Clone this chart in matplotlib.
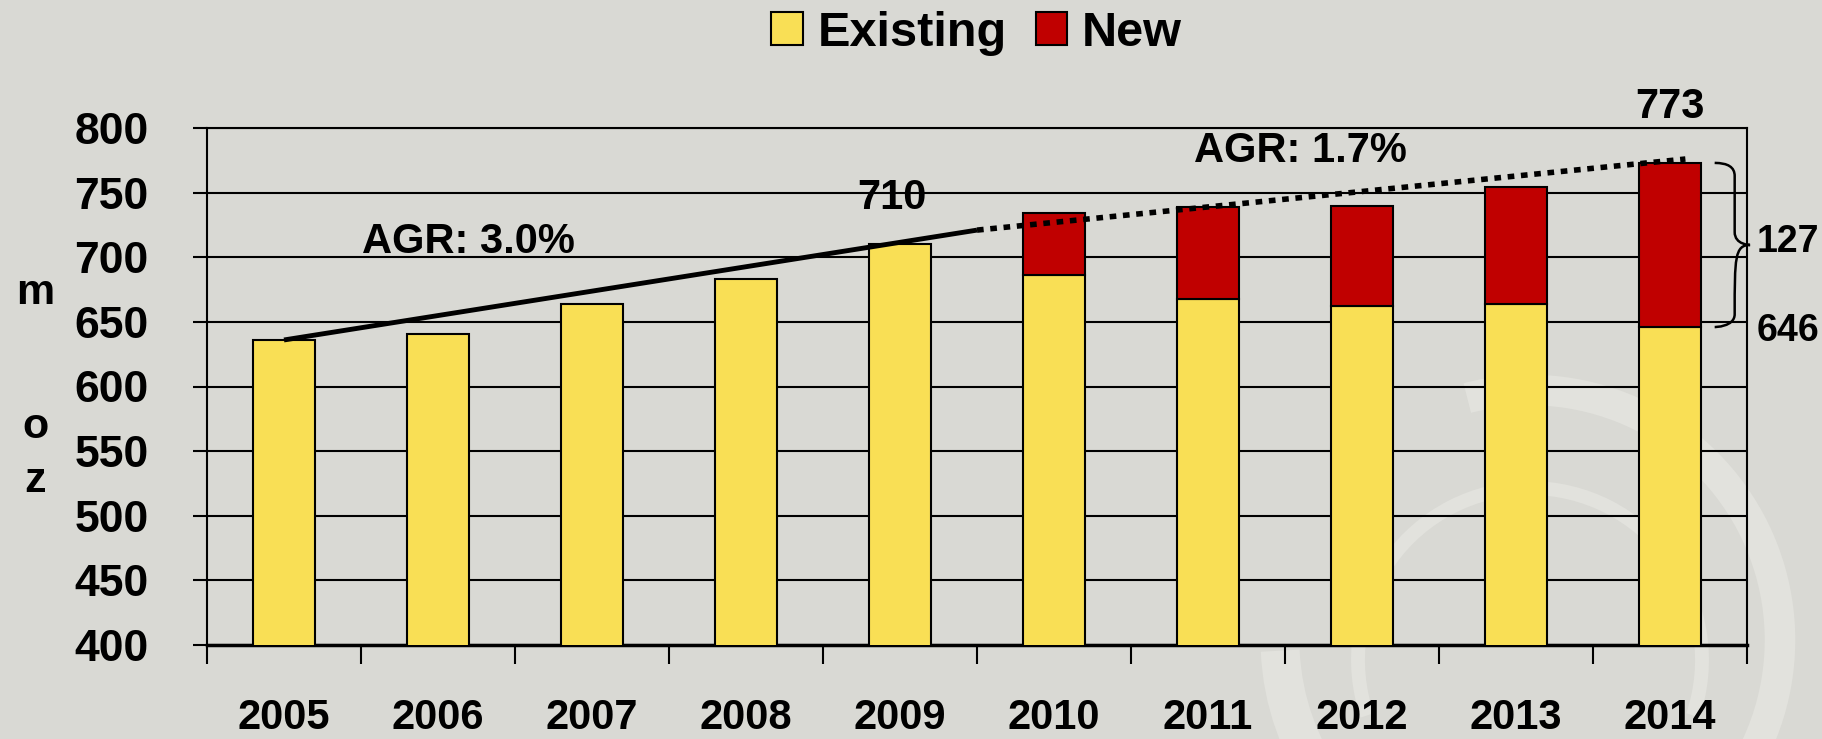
import numpy as np
import matplotlib
matplotlib.use("Agg")
import matplotlib.pyplot as plt
from matplotlib.patches import Arc, PathPatch, Rectangle
from matplotlib.path import Path

plt.rcParams['font.family'] = ['Liberation Sans', 'DejaVu Sans']
plt.rcParams['font.weight'] = 'bold'

years = ["2005", "2006", "2007", "2008", "2009", "2010", "2011", "2012", "2013", "2014"]
existing = [636, 641, 664, 683, 710, 686, 668, 662, 664, 646]
new = [0, 0, 0, 0, 0, 48, 71, 78, 90, 127]
total = [e + n for e, n in zip(existing, new)]

trend_solid = ([0, 4.5], [636, 721])
trend_dot = ([4.5, 9.1], [721, 776])

bg = "#d9d9d4"
yellow = "#f9df55"
red = "#c00000"

W, H = 1822, 739
fig = plt.figure(figsize=(W / 100, H / 100), dpi=100, facecolor=bg)

# faint swirl in the background (pixel positions from the top-left)
swirl = "#e2e2dd"
def ring(cx, cy, r, t1, t2, lw):
    fig.patches.append(Arc((cx / W, 1 - cy / H), 2 * r / W, 2 * r / H, theta1=t1, theta2=t2,
                           transform=fig.transFigure, color=swirl, lw=lw, zorder=-5))

ring(1530, 660, 172, -40, 220, 10)
ring(1530, 640, 250, -70, 96, 22)
ring(1530, 640, 250, 186, 262, 28)

ax = fig.add_axes([207 / W, 1 - 645 / H, (1747 - 207) / W, (645 - 128) / H])
ax.set_facecolor("none")
ax.set_zorder(2)

x = np.arange(len(years))
ax.bar(x, existing, width=0.4, color=yellow, edgecolor="black", lw=1.5, zorder=3)
ax.bar(x[5:], new[5:], width=0.4, bottom=existing[5:], color=red, edgecolor="black", lw=1.5, zorder=3)
ax.set_ylim(400, 800)
ax.set_xlim(-0.5, len(years) - 0.5)

ax.plot(trend_solid[0], trend_solid[1], color="black", lw=3.5, zorder=4, solid_capstyle="butt")
ax.plot(trend_dot[0], trend_dot[1], color="black", lw=4, ls=(0, (1.2, 1.2)), zorder=4)

ax.set_yticks(np.arange(400, 801, 50))
ax.yaxis.grid(True, color="black", lw=1.5, zorder=1)
ax.set_axisbelow(True)
ax.tick_params(axis="y", direction="out", length=10, width=1.5, pad=32, labelsize=32)

ax.set_xticks(np.arange(-0.5, len(years), 1.0))
ax.set_xticklabels([])
ax.set_xticks(x, minor=True)
ax.set_xticklabels(years, minor=True, fontsize=30, fontweight="bold")
ax.tick_params(axis="x", which="major", direction="out", length=14, width=1.5)
ax.tick_params(axis="x", which="minor", length=0, pad=38)

for s in ["top", "right", "left", "bottom"]:
    ax.spines[s].set_linewidth(1.5)
ax.spines["bottom"].set_linewidth(2.5)

# annotations
ax.text(3.95, 746, str(existing[4]), fontsize=30, ha="center", va="center")
ax.text(1.2, 712, "AGR: 3.0%", fontsize=30, ha="center", va="center")
ax.text(6.6, 782, "AGR: 1.7%", fontsize=30, ha="center", va="center")
ax.text(9.0, 816, str(total[-1]), fontsize=30, ha="center", va="center", clip_on=False)

# brace for the 2014 split
top, bot = total[-1], existing[-1]
mid = (top + bot) / 2
x0, x1, x2 = 9.29, 9.42, 9.52
r = 10
verts = [(x0, top), (x1, top), (x1, top - r),
         (x1, mid + r),
         (x1, mid), (x2, mid), (x2, mid),
         (x2, mid), (x1, mid), (x1, mid - r),
         (x1, bot + r),
         (x1, bot), (x0, bot), (x0, bot)]
codes = [Path.MOVETO, Path.CURVE3, Path.CURVE3,
         Path.LINETO,
         Path.CURVE4, Path.CURVE4, Path.CURVE4,
         Path.MOVETO, Path.CURVE4, Path.CURVE4,
         Path.LINETO,
         Path.CURVE4, Path.CURVE4, Path.CURVE4]
ax.add_patch(PathPatch(Path(verts, codes), fc="none", ec="black", lw=1.8, clip_on=False, zorder=5))
ax.text(9.56, mid + 2, str(new[-1]), fontsize=27, ha="left", va="center", clip_on=False)
ax.text(9.56, bot - 3, str(bot), fontsize=27, ha="left", va="center", clip_on=False)

# stacked unit label
fig.text(35 / W, 1 - 293 / H, "m", fontsize=31, ha="center", va="center")
fig.text(35 / W, 1 - 427 / H, "o", fontsize=31, ha="center", va="center")
fig.text(35 / W, 1 - 481 / H, "z", fontsize=31, ha="center", va="center")

handles = [Rectangle((0, 0), 1, 1, fc=yellow, ec="black", lw=1.5),
           Rectangle((0, 0), 1, 1, fc=red, ec="black", lw=1.5)]
fig.legend(handles, ["Existing", "New"], loc="center", bbox_to_anchor=(0.536, 1 - 33 / H),
           ncol=2, frameon=False, handlelength=0.65, handleheight=0.65,
           handletextpad=0.3, columnspacing=0.6, prop={"weight": "bold", "size": 35})

fig.savefig("out.png", dpi=100, facecolor=bg)
